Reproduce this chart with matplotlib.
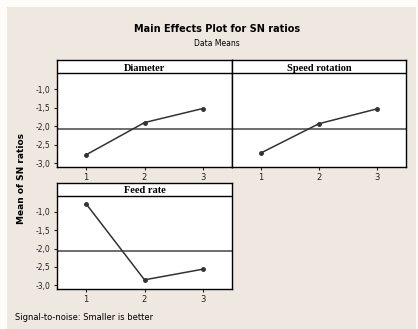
import matplotlib
matplotlib.use("Agg")
from matplotlib import pyplot as plt
from matplotlib.patches import Rectangle

levels = [1, 2, 3]
diameter = [-2.77, -1.90, -1.52]       # mean SN ratio per level
speed_rotation = [-2.72, -1.93, -1.53]
feed_rate = [-0.78, -2.85, -2.56]
factor_names = ["Diameter", "Speed rotation", "Feed rate"]
y_ticks = [-1.0, -1.5, -2.0, -2.5, -3.0]
y_tick_labels = ["-1,0", "-1,5", "-2,0", "-2,5", "-3,0"]

overall_mean = sum(diameter) / 3

bg = "#efe8e1"
fig = plt.figure(figsize=(4.18, 3.29), dpi=100, facecolor="#fdfcf8")
fig.patches.append(Rectangle((7 / 418, 0), 409 / 418, 322 / 329, transform=fig.transFigure,
                             facecolor=bg, edgecolor="none", zorder=-10))

W, H = 418, 329
def box(x0, y0, x1, y1):
    return [x0 / W, 1 - y1 / H, (x1 - x0) / W, (y1 - y0) / H]

axes = [fig.add_axes(box(57, 60, 232, 167)),
        fig.add_axes(box(232, 60, 406, 167)),
        fig.add_axes(box(57, 183, 232, 289))]
data = [diameter, speed_rotation, feed_rate]

for i, (ax, vals, name) in enumerate(zip(axes, data, factor_names)):
    ax.set_facecolor("white")
    ax.plot(levels, vals, color="#333333", lw=1.1, marker="o", ms=2.5, zorder=3)
    ax.axhline(overall_mean, color="#6e6e6e", lw=1.4, zorder=2)
    ax.set_xlim(0.5, 3.5)
    ax.set_ylim(-3.1, -0.21)
    # header strip
    ax.axhline(-0.56, color="black", lw=1.0, zorder=4)
    ax.text(0.5, 0.925, name, transform=ax.transAxes, ha="center", va="center",
            family="Liberation Serif", fontweight="bold", fontsize=7.5)
    ax.set_xticks(levels)
    ax.set_xticklabels([str(l) for l in levels], fontsize=6)
    ax.tick_params(axis="both", direction="out", length=2.5, width=0.8, pad=2, colors="#222222")
    for sp in ax.spines.values():
        sp.set_linewidth(1.0)
    if i == 1:
        ax.set_yticks([])
    else:
        ax.set_yticks(y_ticks)
        ax.set_yticklabels(y_tick_labels, fontsize=5.5)

fig.text(0.52, 1 - 29 / H, "Main Effects Plot for SN ratios", ha="center", va="center",
         fontsize=7, fontweight="bold")
fig.text(0.52, 1 - 43 / H, "Data Means", ha="center", va="center", fontsize=5.5)
fig.text(22 / W, 1 - 179 / H, "Mean of SN ratios", rotation=90, ha="center", va="center",
         fontsize=6.5, fontweight="bold")
fig.text(15 / W, 1 - 318 / H, "Signal-to-noise: Smaller is better", ha="left", va="center",
         fontsize=6)

plt.savefig("out.png", dpi=100, facecolor=fig.get_facecolor())
